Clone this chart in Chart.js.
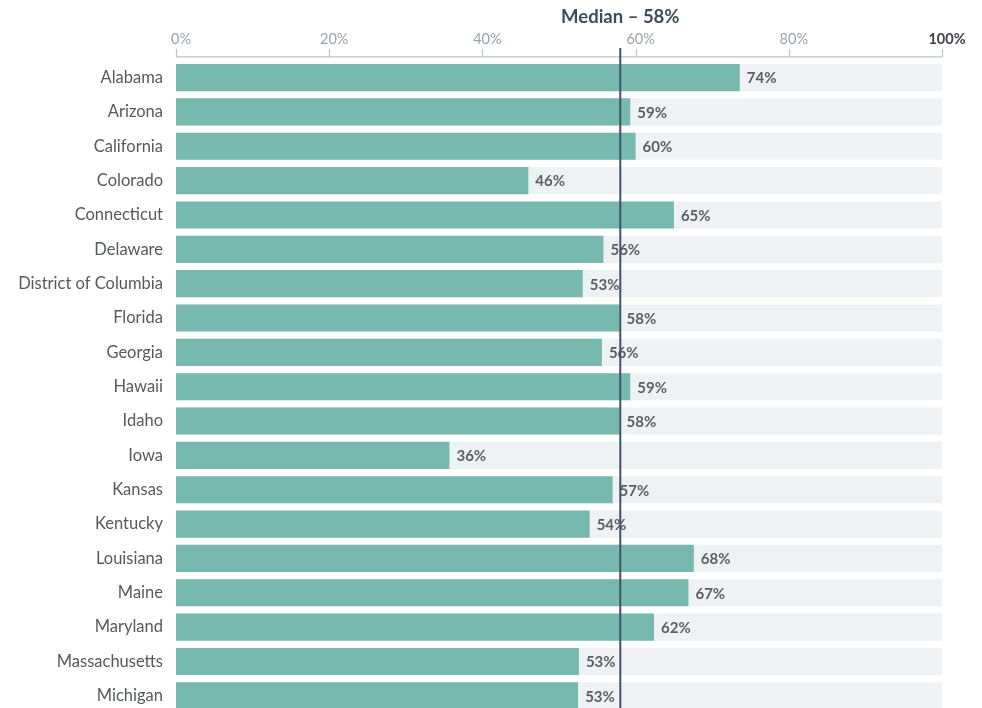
<!DOCTYPE html>
<html>
<head>
<meta charset="utf-8">
<script src="https://cdn.jsdelivr.net/npm/chart.js@4/dist/chart.umd.min.js"></script>
<style>
  html, body { margin: 0; padding: 0; background: #ffffff; overflow: hidden; }
  #wrap { width: 982px; height: 708px; overflow: hidden; }
  canvas { display: block; }
</style>
</head>
<body>
<div id="wrap"><canvas id="c" width="982" height="713"></canvas></div>
<script>
const categories = ["Alabama","Arizona","California","Colorado","Connecticut","Delaware","District of Columbia","Florida","Georgia","Hawaii","Idaho","Iowa","Kansas","Kentucky","Louisiana","Maine","Maryland","Massachusetts","Michigan"];
const values = [73.6, 59.3, 60.0, 46.0, 65.0, 55.8, 53.1, 57.9, 55.6, 59.3, 57.9, 35.7, 57.0, 54.0, 67.6, 66.9, 62.4, 52.6, 52.5];
const fullScale = [100,100,100,100,100,100,100,100,100,100,100,100,100,100,100,100,100,100,100];
const medianValue = 58;
const medianTitle = "Median \u2013 58%";
const xTickValues = [0, 20, 40, 60, 80, 100];

const FONT = "Lato, 'Noto Sans', sans-serif";

const overlay = {
  id: 'overlay',
  beforeDatasetsDraw(chart) {
    const ctx = chart.ctx, xs = chart.scales.x, top = chart.chartArea.top;
    const axisY = top - 3.5;
    ctx.save();
    ctx.strokeStyle = '#b9c5cd';
    ctx.lineWidth = 1.2;
    ctx.beginPath();
    ctx.moveTo(xs.getPixelForValue(0), axisY);
    ctx.lineTo(xs.getPixelForValue(100), axisY);
    xTickValues.forEach(v => {
      const px = Math.round(xs.getPixelForValue(v)) + 0.5;
      ctx.moveTo(px, axisY);
      ctx.lineTo(px, axisY - 8);
    });
    ctx.stroke();
    ctx.restore();
  },
  afterDatasetsDraw(chart) {
    const ctx = chart.ctx, xs = chart.scales.x;
    const meta = chart.getDatasetMeta(0);
    ctx.save();
    ctx.font = "bold 15px " + FONT;
    ctx.fillStyle = '#5b5e61';
    ctx.textBaseline = 'middle';
    ctx.textAlign = 'left';
    meta.data.forEach((bar, i) => {
      ctx.fillText(Math.round(values[i]) + '%', bar.x + 7, bar.y + 1);
    });
    // median line
    const mx = xs.getPixelForValue(medianValue);
    ctx.strokeStyle = '#3e5468';
    ctx.lineWidth = 2;
    ctx.beginPath();
    ctx.moveTo(mx, 48);
    ctx.lineTo(mx, chart.height);
    ctx.stroke();
    // title
    ctx.font = "bold 18.5px " + FONT;
    ctx.fillStyle = '#3d4d5c';
    ctx.textAlign = 'center';
    ctx.textBaseline = 'middle';
    ctx.fillText(medianTitle, mx, 17);
    ctx.restore();
  }
};

new Chart(document.getElementById('c'), {
  type: 'bar',
  data: {
    labels: categories,
    datasets: [
      { data: values, backgroundColor: '#77b9af', barPercentage: 0.79, categoryPercentage: 1, grouped: false, order: 1 },
      { data: fullScale, backgroundColor: '#eef2f5', barPercentage: 0.79, categoryPercentage: 1, grouped: false, order: 2 }
    ]
  },
  options: {
    indexAxis: 'y',
    responsive: false,
    animation: false,
    layout: { padding: { left: 0, right: 40, top: 0, bottom: 0 } },
    plugins: { legend: { display: false }, tooltip: { enabled: false } },
    scales: {
      x: {
        position: 'top',
        min: 0, max: 100,
        grid: { display: false, drawTicks: false },
        border: { display: false },
        afterFit: s => { s.height = 60.4; s.paddingLeft = 0; },
        ticks: {
          stepSize: 20,
          labelOffset: 5,
          padding: 12,
          callback: v => v + '%',
          color: c => c.tick && c.tick.value === 100 ? '#3c4248' : '#98a3ab',
          font: c => ({ family: FONT, size: 14.5, weight: c.tick && c.tick.value === 100 ? 'bold' : 'normal' })
        }
      },
      y: {
        grid: { display: false, drawTicks: false },
        border: { display: false },
        afterFit: s => { s.width = 176; s.paddingTop = 0; s.paddingBottom = 0; },
        ticks: { padding: 13, color: '#55595d', font: { family: FONT, size: 16.5 } }
      }
    }
  },
  plugins: [overlay]
});
</script>
</body>
</html>
